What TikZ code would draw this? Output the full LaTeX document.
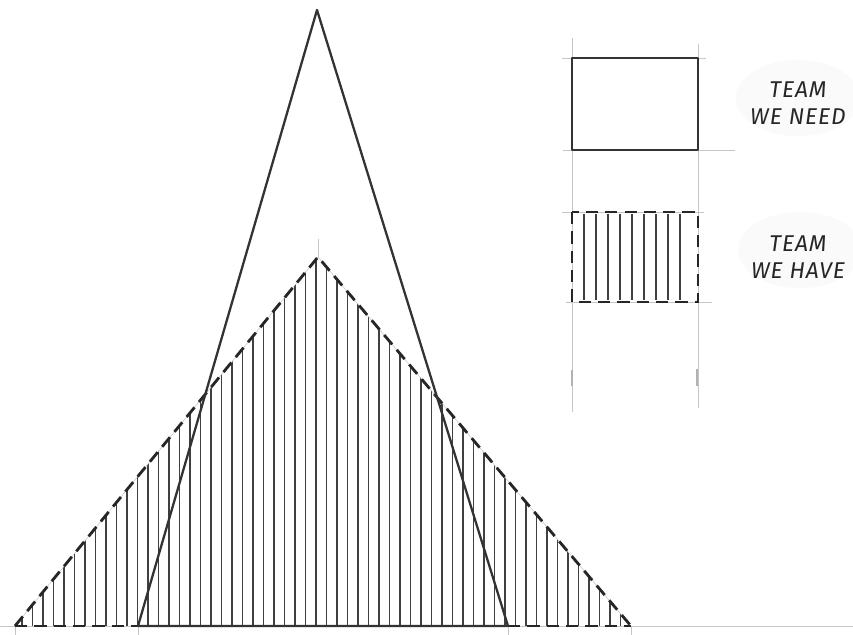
\documentclass[tikz,border=0pt]{standalone}
\usepackage{fontspec}
\newfontfamily\handfont[LetterSpace=4]{Fira Sans}
\usetikzlibrary{positioning}

\begin{document}
\begin{tikzpicture}[x=0.02cm, y=-0.02cm,
  guide/.style={draw=gray!45, line width=0.3pt},
  needline/.style={draw=black!80, line width=1.3pt, line join=round},
  haveline/.style={draw=black!85, line width=1.6pt, dash pattern=on 7pt off 4pt},
  hatch/.style={draw=black!75, line width=0.6pt},
  blob/.style={fill=gray!4, draw=none},
  label/.style={font=\handfont\itshape\fontsize{13}{15}\selectfont, align=center, text=black!85}]
  \useasboundingbox (0,0) rectangle (853,635);
  \clip (0,0) rectangle (853,635);
  \fill[white] (0,0) rectangle (853,635);

  \coordinate (nt) at (317,10);
  \coordinate (nl) at (138,626);
  \coordinate (nr) at (508,626);
  \coordinate (ht) at (318,257);
  \coordinate (hl) at (15,626);
  \coordinate (hr) at (631,626);
  \coordinate (ax) at (0,626);
  \coordinate (bx) at (853,626);

  \begin{scope}
    \clip (hl) -- (ht) -- (hr) -- cycle;
    \foreach \x in {22,32.5,...,628} \draw[hatch] (\x,626) -- (\x,250);
  \end{scope}

  \draw[guide] (ax) -- (bx);
  \draw[guide] (hl) -- (ht) -- (hr);
  \draw[guide] (ht) -- ++(0,-18);
  \foreach \p in {hl,nl,nr,hr} \draw[guide] (\p) -- ++(0,9);
  \draw[haveline] (hl) -- (nl) (nr) -- (hr);
  \draw[haveline] (hl) -- (ht) -- (hr);
  \draw[needline] (nl) -- (nt) -- (nr) -- cycle;

  \fill[blob] (798,98) ellipse (62 and 38);
  \fill[blob] (800,250) ellipse (62 and 38);

  \draw[guide] (572,38) -- (572,412);
  \draw[guide] (698,44) -- (698,408);
  \draw[guide] (562,58) -- (706,58);
  \draw[guide] (563,150) -- (735,150);
  \draw[guide] (562,212) -- (704,212);
  \draw[guide] (566,302) -- (712,302);
  \draw[draw=gray!60, line width=1pt] (572,370) -- (572,386) (697,369) -- (697,386);

  \draw[needline] (572,58) rectangle (698,150);
  \foreach \x in {584,596,...,690} \draw[hatch] (\x,214) -- (\x,300);
  \draw[haveline] (572,212) rectangle (698,302);

  \node[label] (need) at (798,103) {TEAM\\WE NEED};
  \node[label] (have) at (798,257) {TEAM\\WE HAVE};
\end{tikzpicture}
\end{document}
